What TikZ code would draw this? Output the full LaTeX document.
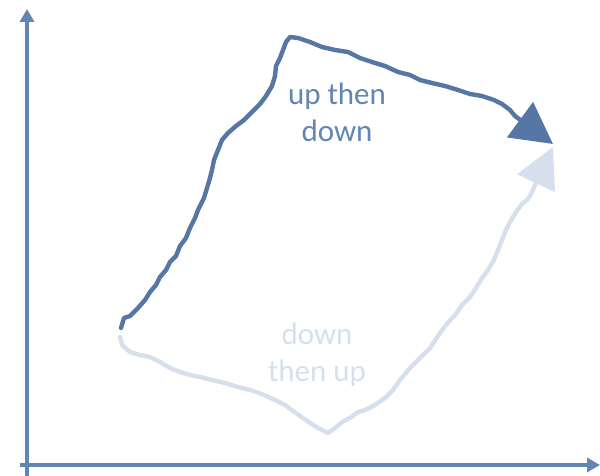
\documentclass[tikz,border=0pt]{standalone}
\usepackage{fontspec}
\setmainfont{Carlito}
\usetikzlibrary{arrows.meta}
\definecolor{axisblue}{RGB}{98,133,180}
\definecolor{darkpath}{RGB}{86,119,165}
\definecolor{lightpath}{RGB}{214,224,236}
\tikzset{
  axisline/.style={draw=axisblue, line width=4.8pt, -{Triangle[length=13pt,width=14pt]}},
  wobbly/.style={line width=4.4pt, line cap=round, line join=round},
  lbl/.style={align=center, font=\fontsize{31}{37}\selectfont, inner sep=0pt}
}
\begin{document}
\begin{tikzpicture}[x=1pt,y=-1pt]
\useasboundingbox (0,0) rectangle (600,476);
% axes
\coordinate (o1) at (27,476);
\coordinate (ytop) at (27,9);
\coordinate (o2) at (20,465);
\coordinate (xend) at (600,465);
\draw[axisline] (o1) -- (ytop);
\draw[axisline] (o2) -- (xend);
% dark path: up then down
\coordinate (dstart) at (121,328);
\coordinate (dpeak) at (290,37);
\coordinate (dtip) at (553,144);
\draw[wobbly, darkpath, -{Triangle[length=41pt,width=43pt]}]
  (dstart) -- (124,318) -- (130,316) -- (138,308) -- (145,300) -- (150,292) -- (156,285) -- (160,277)
  -- (166,270) -- (170,262) -- (176,256) -- (180,246) -- (186,238) -- (190,228) -- (195,218)
  -- (198,210) -- (204,198) -- (207,188) -- (210,178) -- (212,170) -- (214,160) -- (218,150)
  -- (222,140) -- (228,133) -- (236,126) -- (244,120) -- (252,112) -- (260,104) -- (266,96)
  -- (272,86) -- (275,76) -- (276,66) -- (280,58) -- (283,50) -- (286,42) -- (dpeak)
  -- (298,38) -- (310,42) -- (322,47) -- (335,50) -- (348,52) -- (360,58) -- (372,62)
  -- (385,66) -- (398,72) -- (410,75) -- (420,80) -- (432,83) -- (445,86) -- (458,90)
  -- (470,94) -- (482,96) -- (494,100) -- (502,104) -- (510,110) -- (515,116) -- (dtip);
% light path: down then up
\coordinate (lstart) at (120,337);
\coordinate (lvalley) at (328,433);
\coordinate (ltip) at (553,147);
\draw[wobbly, lightpath, -{Triangle[length=40pt,width=41pt]}]
  (lstart) -- (122,345) -- (130,352) -- (140,355) -- (150,357) -- (160,362) -- (170,368)
  -- (180,372) -- (190,375) -- (200,377) -- (212,380) -- (225,383) -- (238,387) -- (250,390)
  -- (262,394) -- (275,400) -- (285,405) -- (293,411) -- (300,416) -- (310,423) -- (318,428)
  -- (lvalley) -- (335,428) -- (342,422) -- (350,418) -- (358,412) -- (365,410) -- (375,405)
  -- (385,398) -- (393,390) -- (400,380) -- (410,368) -- (420,358) -- (430,348) -- (438,336)
  -- (446,325) -- (455,315) -- (462,305) -- (470,297) -- (476,288) -- (482,278) -- (488,270)
  -- (494,260) -- (498,250) -- (502,240) -- (505,232) -- (510,222) -- (516,212) -- (522,204)
  -- (527,200) -- (530,196) -- (ltip);
% labels
\node[lbl, text=axisblue] (updown) at (337,112) {up then\\down};
\node[lbl, text=lightpath] (downup) at (317,355) {down\\then up};
\end{tikzpicture}
\end{document}
